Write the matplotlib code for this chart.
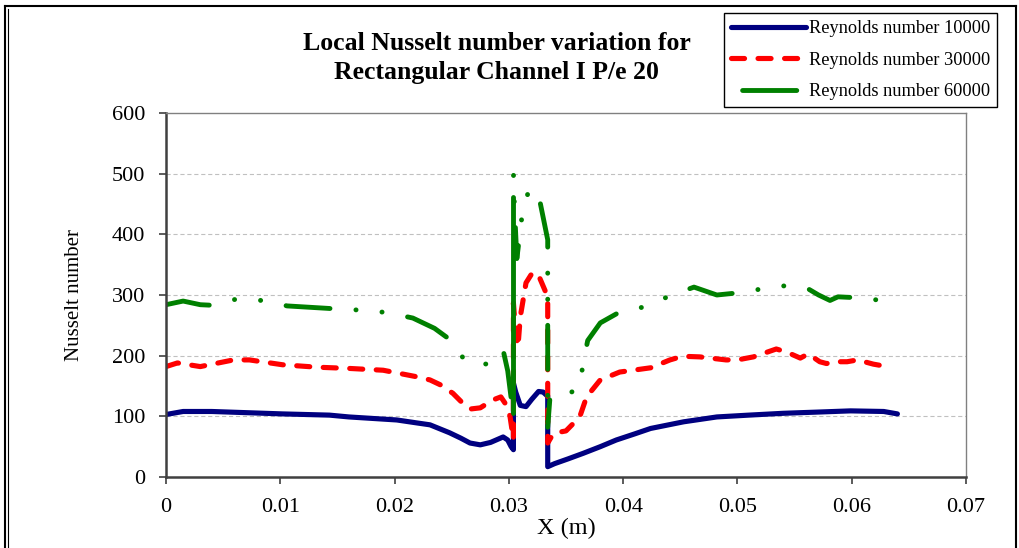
import matplotlib
matplotlib.use("Agg")
import matplotlib.pyplot as plt
from matplotlib.lines import Line2D

plt.rcParams['font.family'] = ['Liberation Serif', 'DejaVu Serif']
plt.rcParams['lines.scale_dashes'] = False

# Reynolds number 10000
x_re10 = [0.0, 0.0015, 0.004, 0.0102, 0.0143, 0.0160, 0.0202, 0.0220, 0.0231, 0.0248,
          0.0258, 0.0266, 0.0275, 0.0284, 0.0295, 0.0299, 0.0302, 0.0304, 0.0304, 0.0306,
          0.0310, 0.0315, 0.0320, 0.0326, 0.0330, 0.0334, 0.0334, 0.0340, 0.0352, 0.0365,
          0.0380, 0.0394, 0.0410, 0.0424, 0.0453, 0.0482, 0.0510, 0.0540, 0.0570, 0.0599,
          0.0628, 0.0640]
nu_re10 = [103, 108, 108, 104, 102, 99, 94, 89, 86, 73,
           64, 56, 53, 57, 66, 61, 50, 45, 155, 140,
           118, 116, 128, 141, 140, 133, 17, 22, 30, 39,
           50, 61, 71, 80, 91, 99, 102, 105, 107, 109,
           108, 104]

# Reynolds number 30000
x_re30 = [0.0, 0.001, 0.003, 0.0059, 0.0073, 0.0102, 0.0132, 0.0160, 0.0190, 0.0220,
          0.0231, 0.0240, 0.0251, 0.0260, 0.0266, 0.0275, 0.0286, 0.0293, 0.0298, 0.0301,
          0.0304, 0.0304, 0.0306, 0.0308, 0.0310, 0.0315, 0.0321, 0.0327, 0.0334, 0.0334,
          0.0339, 0.0350, 0.0362, 0.0368, 0.0380, 0.0397, 0.0424, 0.0441, 0.0452, 0.0467,
          0.0490, 0.0500, 0.0514, 0.0534, 0.0543, 0.0555, 0.0562, 0.0572, 0.0578, 0.0584,
          0.0596, 0.0605, 0.0619, 0.0631]
nu_re30 = [182, 188, 182, 193, 193, 185, 181, 179, 176, 165,
           160, 152, 138, 121, 112, 114, 127, 132, 118, 100,
           62, 287, 237, 215, 264, 320, 338, 328, 297, 56,
           72, 76, 99, 132, 160, 173, 180, 193, 199, 198,
           193, 193, 198, 211, 206, 196, 203, 190, 187, 190,
           190, 193, 186, 182]

# Reynolds number 60000
x_re60 = [0.0, 0.0015, 0.0030, 0.0041, 0.0061, 0.0084, 0.0106, 0.0150, 0.0171, 0.0194,
          0.0216, 0.0235, 0.0251, 0.0262, 0.0281, 0.0290, 0.0295, 0.0299, 0.0302, 0.0304,
          0.0304, 0.0304, 0.0305, 0.0307, 0.0312, 0.0318, 0.0327, 0.0334, 0.0334, 0.0336,
          0.0351, 0.0362, 0.0365, 0.0369, 0.0380, 0.0397, 0.0420, 0.0440, 0.0462, 0.0482,
          0.0503, 0.0524, 0.0545, 0.0562, 0.0571, 0.0581, 0.0588, 0.0599, 0.0622]
nu_re60 = [284, 290, 284, 283, 293, 291, 282, 277, 275, 271,
           262, 245, 223, 190, 186, 200, 209, 175, 130, 105,
           462, 501, 440, 360, 438, 476, 456, 391, 82, 132,
           135, 149, 188, 225, 254, 272, 281, 298, 313, 300,
           304, 311, 316, 310, 300, 291, 297, 296, 292]

# where the Re 60000 curve meets the rib faces (front face bottom, front face top, back face bottom)
rib_front, rib_top, rib_back = 19, 20, 28

labels = ['Reynolds number 10000', 'Reynolds number 30000', 'Reynolds number 60000']

fig = plt.figure(figsize=(10.2, 5.48), dpi=100)
ax = fig.add_axes([166 / 1020, 71 / 548, 800 / 1020, 364 / 548])

green = '#008000'
dash_dot_dot = [31.7, 18.7, 0.1, 18.7, 0.1, 18.7]

l1, = ax.plot(x_re10, nu_re10, color='#000080', lw=3.7, solid_capstyle='round',
              solid_joinstyle='round')
l2, = ax.plot(x_re30, nu_re30, color='#ff0000', lw=3.7, dash_capstyle='round',
              dash_joinstyle='round', linestyle=(0, (9.4, 9.7)))

# Re 60000 drawn piecewise: upstream, rib front face, rib top / back face, downstream
g_style = dict(color=green, lw=3.5, dash_capstyle='round', dash_joinstyle='round',
               solid_capstyle='round')
ax.plot(x_re60[:rib_front + 1], nu_re60[:rib_front + 1],
        linestyle=(0, dash_dot_dot), **g_style)
ax.plot(x_re60[rib_front:rib_top + 1], nu_re60[rib_front:rib_top + 1],
        linestyle='-', **g_style)
ax.plot(x_re60[rib_top:rib_back + 1], nu_re60[rib_top:rib_back + 1],
        linestyle=(31.7, dash_dot_dot), **g_style)
ax.plot(x_re60[rib_back:], nu_re60[rib_back:], linestyle=(12, dash_dot_dot), **g_style)
l3 = Line2D([], [], color=green, lw=3.5, dash_capstyle='round',
            linestyle=(131, (39, 100)))

ax.set_xlim(0, 0.07)
ax.set_ylim(0, 600)
ax.set_xticks([0, 0.01, 0.02, 0.03, 0.04, 0.05, 0.06, 0.07])
ax.set_xticklabels(['0', '0.01', '0.02', '0.03', '0.04', '0.05', '0.06', '0.07'])
ax.set_yticks(range(0, 601, 100))

for y in range(100, 600, 100):
    ax.axhline(y, color='#c0c0c0', lw=0.8, ls=(0, (3, 2)), zorder=0)

ax.tick_params(axis='both', direction='out', length=5, width=1.2, color='#404040',
               labelsize=16, labelcolor='black')
ax.tick_params(axis='x', pad=10)
ax.tick_params(axis='y', pad=10)
for side in ('left', 'bottom'):
    ax.spines[side].set_color('#404040')
    ax.spines[side].set_linewidth(1.8)
for side in ('top', 'right'):
    ax.spines[side].set_color('#808080')
    ax.spines[side].set_linewidth(1.0)

ax.set_xlabel('X (m)', fontsize=17.5)
ax.set_ylabel('Nusselt number', fontsize=15)
ax.xaxis.set_label_coords(0.5, -0.113)
ax.yaxis.set_label_coords(-0.1025, 0.5)

fig.text(0.487, 0.894, 'Local Nusselt number variation for\nRectangular Channel I P/e 20',
         ha='center', va='center', fontsize=18.5, fontweight='bold', linespacing=1.32)

leg = ax.legend([l1, l2, l3], labels, loc='upper left',
                bbox_to_anchor=(724 / 1020, 1 - 13 / 548), bbox_transform=fig.transFigure,
                fontsize=13.2, frameon=True, fancybox=False, framealpha=1,
                edgecolor='black', handlelength=4.1, handletextpad=0.15,
                labelspacing=0.8, borderpad=0.38, borderaxespad=0)
leg.get_frame().set_linewidth(1.0)

# outer frame of the chart
fig.add_artist(Line2D([5 / 1020, 5 / 1020], [0, 1 - 6 / 548], transform=fig.transFigure,
                      color='black', lw=1.5))
fig.add_artist(Line2D([8 / 1020, 8 / 1020], [0, 1 - 9 / 548], transform=fig.transFigure,
                      color='black', lw=0.8))
fig.add_artist(Line2D([5 / 1020, 1016 / 1020], [1 - 6 / 548, 1 - 6 / 548],
                      transform=fig.transFigure, color='black', lw=1.5))
fig.add_artist(Line2D([1016 / 1020, 1016 / 1020], [0, 1 - 6 / 548],
                      transform=fig.transFigure, color='black', lw=1.5))

fig.savefig('out.png', dpi=100)
